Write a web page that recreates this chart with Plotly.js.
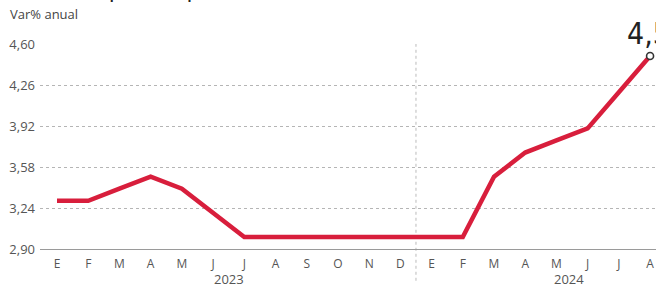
<!DOCTYPE html>
<html>
<head>
<meta charset="utf-8">
<script src="https://cdn.plot.ly/plotly-3.0.1.min.js"></script>
<style>html,body{margin:0;padding:0;background:#fff;}#chart{width:656px;height:284px;}</style>
</head>
<body>
<div id="chart"></div>
<script>
const months = ["E","F","M","A","M","J","J","A","S","O","N","D","E","F","M","A","M","J","J","A"];
const values = [3.30,3.30,3.40,3.50,3.40,3.20,3.00,3.00,3.00,3.00,3.00,3.00,3.00,3.00,3.50,3.70,3.80,3.90,4.20,4.50];
const yTicks = [2.90,3.24,3.58,3.92,4.26,4.60];
const years = ["2023","2024"];
const yearPos = [5.5,16.4];
const titleText = "Evolución de las previsiones para la inflación 2024";
const subtitleText = "Var% anual";
const lastLabel = "4,5";

const idx = months.map((m,i)=>i);
const last = idx.length-1;
const font = "'Open Sans', 'Noto Sans', sans-serif";

const traces = [
  {x: idx, y: values, type:'scatter', mode:'lines',
   line:{color:'#d81e3c', width:4.5}, hoverinfo:'skip', cliponaxis:false},
  {x: [idx[last]], y: [values[last]], type:'scatter', mode:'markers',
   marker:{size:7, color:'#fff', line:{color:'#333', width:1.6}}, cliponaxis:false, hoverinfo:'skip'}
];

const annotations = [
  {xref:'paper', yref:'paper', x:-0.064, y:1.19, xanchor:'left', yanchor:'bottom',
   text:'<b>'+titleText+'</b>', showarrow:false, font:{family:font, size:13, color:'#222'}},
  {xref:'paper', yref:'paper', x:-0.052, y:1.146, xanchor:'left', yanchor:'middle',
   text:subtitleText, showarrow:false, font:{family:font, size:13, color:'#444'}},
  {xref:'x', yref:'y', x:idx[last], y:values[last], xanchor:'center', yanchor:'bottom', yshift:3, xshift:-2,
   text:lastLabel, showarrow:false, font:{family:"'Liberation Sans Narrow', 'DejaVu Sans Condensed', sans-serif", size:30, color:'#222'}}
];
years.forEach((y,i)=>annotations.push({xref:'x', yref:'paper', x:yearPos[i], y:-0.095, xanchor:'center', yanchor:'top',
  text:y, showarrow:false, font:{family:font, size:13, color:'#555'}}));

const layout = {
  width:656, height:284,
  margin:{l:40, r:0, t:44, b:35},
  paper_bgcolor:'#fff', plot_bgcolor:'#fff',
  separators:',.',
  showlegend:false,
  xaxis:{range:[-0.545,19.19], tickmode:'array', tickvals:idx, ticktext:months,
    showgrid:false, zeroline:false, showline:true, linecolor:'#9a9a9a', linewidth:1.2,
    ticks:'', ticklabelstandoff:3, tickfont:{family:font, size:12, color:'#555'}, fixedrange:true},
  yaxis:{range:[2.90,4.60], tickmode:'array', tickvals:yTicks, tickformat:'.2f',
    showgrid:true, gridcolor:'#b5b5b5', griddash:'dot', gridwidth:1, zeroline:false, showline:false,
    ticks:'', ticklabelstandoff:4, tickfont:{family:font, size:13, color:'#555'}, fixedrange:true},
  shapes:[{type:'line', xref:'x', yref:'paper', x0:11.5, x1:11.5, y0:-0.155, y1:1,
    line:{color:'#bbb', width:1, dash:'dot'}, layer:'below'}],
  annotations:annotations
};
Plotly.newPlot('chart', traces, layout, {displayModeBar:false, staticPlot:true});
</script>
</body>
</html>
